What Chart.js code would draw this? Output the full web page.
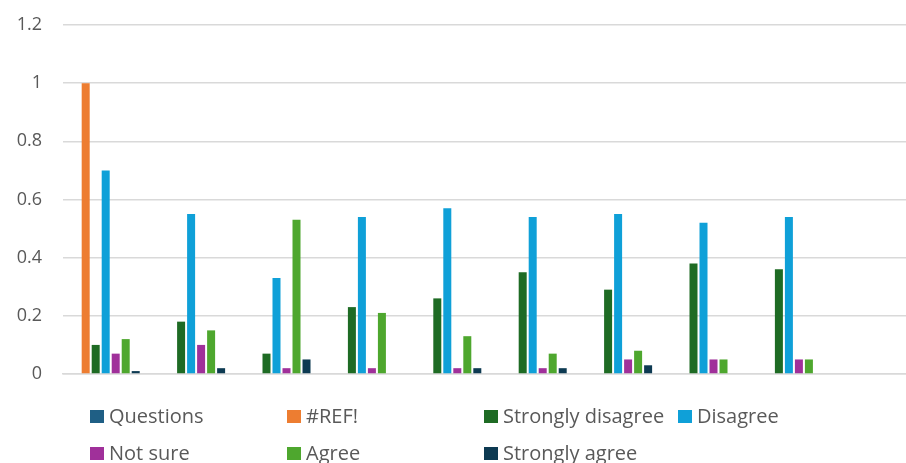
<!DOCTYPE html>
<html>
<head>
<meta charset="utf-8">
<script src="https://cdn.jsdelivr.net/npm/chart.js@4"></script>
<style>
  html, body { margin: 0; padding: 0; background: #fff; overflow: hidden; }
  #wrap { width: 920px; height: 463px; }
</style>
</head>
<body>
<div id="wrap"><canvas id="myChart"></canvas></div>
<script>
// 9 questions, the 10th slot is an empty one that Excel left in the range
const questions = ["Q1", "Q2", "Q3", "Q4", "Q5", "Q6", "Q7", "Q8", "Q9", ""];
const seriesNames = ["Questions", "#REF!", "Strongly disagree", "Disagree", "Not sure", "Agree", "Strongly agree"];
const seriesColors = ["#1F5F85", "#ED7D31", "#1E6B24", "#0FA0D8", "#A0309A", "#4EA72E", "#0D3A52"];

const questionsVals = [0, 0, 0, 0, 0, 0, 0, 0, 0, null];
const refVals = [1, 0, 0, 0, 0, 0, 0, 0, 0, null];
const stronglyDisagree = [0.10, 0.18, 0.07, 0.23, 0.26, 0.35, 0.29, 0.38, 0.36, null];
const disagree = [0.70, 0.55, 0.33, 0.54, 0.57, 0.54, 0.55, 0.52, 0.54, null];
const notSure = [0.07, 0.10, 0.02, 0.02, 0.02, 0.02, 0.05, 0.05, 0.05, null];
const agree = [0.12, 0.15, 0.53, 0.21, 0.13, 0.07, 0.08, 0.05, 0.05, null];
const stronglyAgree = [0.01, 0.02, 0.05, 0, 0.02, 0.02, 0.03, 0, 0, null];

const yTicks = [0, 0.2, 0.4, 0.6, 0.8, 1, 1.2];

const allValues = [questionsVals, refVals, stronglyDisagree, disagree, notSure, agree, stronglyAgree];

// legend laid out in Excel's grid (4 columns, 2 rows)
const legendCols = [90, 287, 484, 678];
const legendRows = [416, 453];

const gridLegend = {
  id: 'gridLegend',
  afterDraw(chart) {
    const ctx = chart.ctx;
    ctx.save();
    ctx.font = '20px "Open Sans", sans-serif';
    ctx.textBaseline = 'middle';
    chart.data.datasets.forEach(function (ds, i) {
      const x = legendCols[i % 4];
      const y = legendRows[Math.floor(i / 4)];
      ctx.fillStyle = ds.backgroundColor;
      ctx.fillRect(x, y - 6, 14, 13);
      ctx.fillStyle = '#595959';
      ctx.fillText(ds.label, x + 19, y + 1);
    });
    ctx.restore();
  }
};

const ctx = document.getElementById('myChart').getContext('2d');
const chart = new Chart(ctx, {
  type: 'bar',
  data: {
    labels: questions,
    datasets: seriesNames.map(function (name, i) {
      return {
        label: name,
        data: allValues[i],
        backgroundColor: seriesColors[i],
        borderWidth: 0
      };
    })
  },
  options: {
    responsive: true,
    maintainAspectRatio: false,
    animation: false,
    categoryPercentage: 0.82,
    barPercentage: 0.8,
    layout: { padding: { top: 25, right: 3, bottom: 89, left: 0 } },
    plugins: {
      legend: { display: false },
      tooltip: { enabled: false }
    },
    scales: {
      x: {
        ticks: { display: false },
        grid: { display: false },
        border: { color: '#D9D9D9', width: 1.5 },
        afterFit: function (axis) { axis.height = 0; }
      },
      y: {
        min: 0,
        max: 1.2,
        afterBuildTicks: function (axis) {
          axis.ticks = yTicks.map(function (v) { return { value: v }; });
        },
        afterFit: function (axis) {
          axis.width = 63;
          axis.paddingTop = 0;
          axis.paddingBottom = 0;
        },
        ticks: {
          color: '#595959',
          padding: 21,
          font: { family: '"Open Sans", sans-serif', size: 18 },
          callback: function (v) { return String(Math.round(v * 10) / 10); }
        },
        grid: { color: '#D9D9D9', lineWidth: 1.5, drawTicks: false },
        border: { display: false }
      }
    }
  },
  plugins: [gridLegend]
});
</script>
</body>
</html>
